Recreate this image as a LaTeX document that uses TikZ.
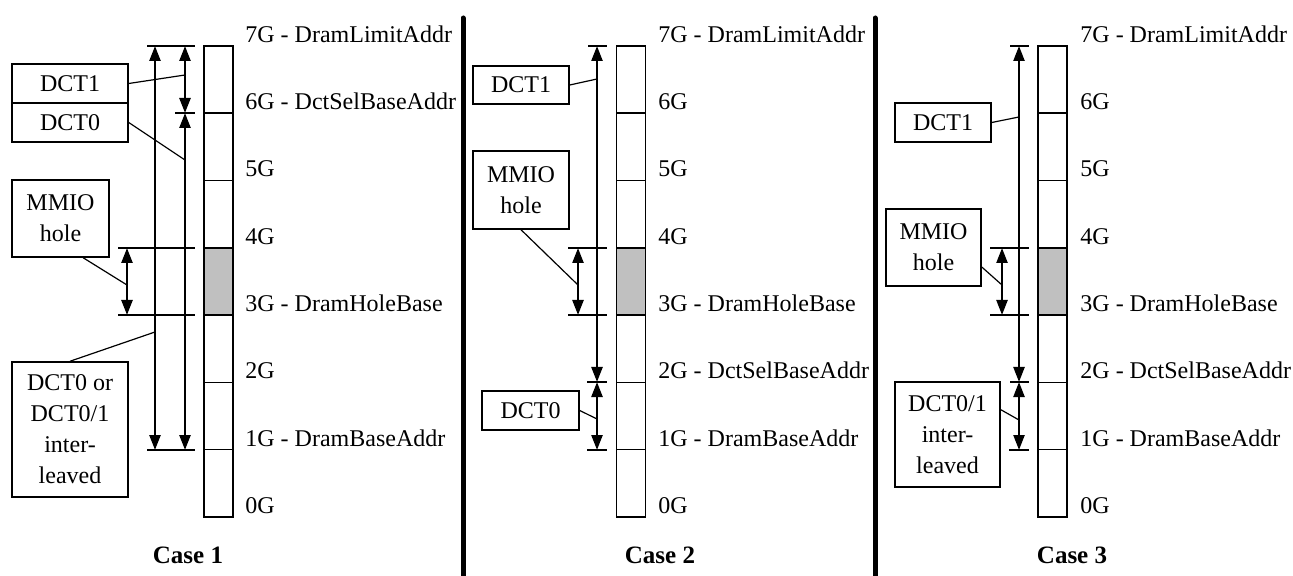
\documentclass[tikz,border=0pt]{standalone}
\usepackage{fontspec}
\setmainfont{Liberation Serif}
\usepackage{xcolor}
\usepackage{tikz}
\usetikzlibrary{arrows.meta,positioning,calc}
\definecolor{holegray}{RGB}{192,192,192}

\begin{document}
\begin{tikzpicture}[x=0.5pt, y=-0.5pt,
    cellbox/.style={rectangle, draw=black, line width=0.75pt, fill=white, minimum width=14.5pt, minimum height=33.65pt, inner sep=0pt},
    tagbox/.style={rectangle, draw=black, line width=0.75pt, fill=white, align=center, inner sep=0pt, font=\fontsize{12}{15.5}\selectfont},
    addrlbl/.style={anchor=base west, inner sep=0pt, font=\fontsize{12}{14}\selectfont},
    caselbl/.style={inner sep=0pt, font=\fontsize{12.5}{14}\selectfont\bfseries},
    dimarrow/.style={{Triangle[length=7.5pt,width=5.5pt]}-{Triangle[length=7.5pt,width=5.5pt]}, line width=1.2pt},
    tickline/.style={line width=0.6pt},
    leader/.style={line width=0.6pt},
    divider/.style={line width=2.5pt, line cap=round}
  ]
    \useasboundingbox (0,0) rectangle (1293,576);

    % Case 1
    \foreach \k/\f in {0/white,1/white,2/white,3/holegray,4/white,5/white,6/white}
      \node[cellbox, fill=\f] (c1m\k) at (218.5, {517-67.3*(\k+0.5)}) {};
    \foreach \k/\t in {0/0G, 1/1G - DramBaseAddr, 2/2G, 3/3G - DramHoleBase, 4/4G, 5/5G, 6/6G - DctSelBaseAddr, 7/7G - DramLimitAddr}
      \node[addrlbl] (c1l\k) at (245, {517-67.3*\k-3.5}) {\t};

    \draw[tickline] (147,46) -- (195,46);
    \draw[tickline] (175,113) -- (195,113);
    \draw[tickline] (118,248) -- (195,248);
    \draw[tickline] (118,315) -- (195,315);
    \draw[tickline] (147,450) -- (195,450);
    \draw[dimarrow] (155,46) -- (155,450);
    \draw[dimarrow] (185,46) -- (185,113);
    \draw[dimarrow] (185,113) -- (185,450);
    \draw[dimarrow] (127,248) -- (127,315);

    \coordinate (c1p1) at (185,75);
    \coordinate (c1p0) at (185,160);
    \coordinate (c1ph) at (127,285);
    \coordinate (c1pm) at (155,332);

    \node[tagbox, minimum width=58pt, minimum height=19.5pt] (c1dct1) at (70,83.5) {DCT1};
    \node[tagbox, minimum width=58pt, minimum height=19.5pt] (c1dct0) at (70,122.5) {DCT0};
    \node[tagbox, minimum width=48.5pt, minimum height=38.5pt] (c1mmio) at (60.5,218.5) {MMIO\\hole};
    \node[tagbox, minimum width=58pt, minimum height=67.5pt] (c1mix) at (70,429.5) {DCT0 or\\DCT0/1\\inter-\\leaved};

    \draw[leader] (c1dct1.east) -- (c1p1);
    \draw[leader] (c1dct0.east) -- (c1p0);
    \draw[leader] (c1mmio.-60) -- (c1ph);
    \draw[leader] (c1mix.north) -- (c1pm);

    \node[caselbl] (case1) at (188,555) {Case 1};

    \draw[divider] (463,18) -- (463,580);

    % Case 2
    \foreach \k/\f in {0/white,1/white,2/white,3/holegray,4/white,5/white,6/white}
      \node[cellbox, fill=\f] (c2m\k) at (631, {517-67.3*(\k+0.5)}) {};
    \foreach \k/\t in {0/0G, 1/1G - DramBaseAddr, 2/2G - DctSelBaseAddr, 3/3G - DramHoleBase, 4/4G, 5/5G, 6/6G, 7/7G - DramLimitAddr}
      \node[addrlbl] (c2l\k) at (658, {517-67.3*\k-3.5}) {\t};

    \draw[tickline] (588,46) -- (607,46);
    \draw[tickline] (587,382) -- (607,382);
    \draw[tickline] (587,450) -- (607,450);
    \draw[tickline] (568,248) -- (607,248);
    \draw[tickline] (568,315) -- (607,315);
    \draw[dimarrow] (597,46) -- (597,382);
    \draw[dimarrow] (597,382) -- (597,450);
    \draw[dimarrow] (578,248) -- (578,315);

    \coordinate (c2p1) at (597,79);
    \coordinate (c2ph) at (578,285);
    \coordinate (c2p0) at (597,419);

    \node[tagbox, minimum width=48pt, minimum height=19pt] (c2dct1) at (521,85) {DCT1};
    \node[tagbox, minimum width=48pt, minimum height=39pt] (c2mmio) at (521,190) {MMIO\\hole};
    \node[tagbox, minimum width=48.5pt, minimum height=19.5pt] (c2dct0) at (530.5,410.5) {DCT0};

    \draw[leader] (c2dct1.east) -- (c2p1);
    \draw[leader] (c2mmio.south) -- (c2ph);
    \draw[leader] (c2dct0.east) -- (c2p0);

    \node[caselbl] (case2) at (660,555) {Case 2};

    \draw[divider] (875,18) -- (875,580);

    % Case 3
    \foreach \k/\f in {0/white,1/white,2/white,3/holegray,4/white,5/white,6/white}
      \node[cellbox, fill=\f] (c3m\k) at (1052.5, {517-67.3*(\k+0.5)}) {};
    \foreach \k/\t in {0/0G, 1/1G - DramBaseAddr, 2/2G - DctSelBaseAddr, 3/3G - DramHoleBase, 4/4G, 5/5G, 6/6G, 7/7G - DramLimitAddr}
      \node[addrlbl] (c3l\k) at (1080, {517-67.3*\k-3.5}) {\t};

    \draw[tickline] (1010,46) -- (1029,46);
    \draw[tickline] (1010,382) -- (1029,382);
    \draw[tickline] (1009,450) -- (1029,450);
    \draw[tickline] (990,248) -- (1029,248);
    \draw[tickline] (990,315) -- (1029,315);
    \draw[dimarrow] (1019,46) -- (1019,382);
    \draw[dimarrow] (1019,382) -- (1019,450);
    \draw[dimarrow] (1002,248) -- (1002,315);

    \coordinate (c3p1) at (1019,117);
    \coordinate (c3ph) at (1002,285);
    \coordinate (c3p0) at (1019,420);

    \node[tagbox, minimum width=48pt, minimum height=19.5pt] (c3dct1) at (943,122.5) {DCT1};
    \node[tagbox, minimum width=47.5pt, minimum height=38.5pt] (c3mmio) at (933.5,247.5) {MMIO\\hole};
    \node[tagbox, minimum width=52.5pt, minimum height=52.5pt] (c3mix) at (947.5,434.5) {DCT0/1\\inter-\\leaved};

    \draw[leader] (c3dct1.east) -- (c3p1);
    \draw[leader] (c3mmio.-22) -- (c3ph);
    \draw[leader] (c3mix.25) -- (c3p0);

    \node[caselbl] (case3) at (1072,555) {Case 3};
  \end{tikzpicture}
\end{document}
